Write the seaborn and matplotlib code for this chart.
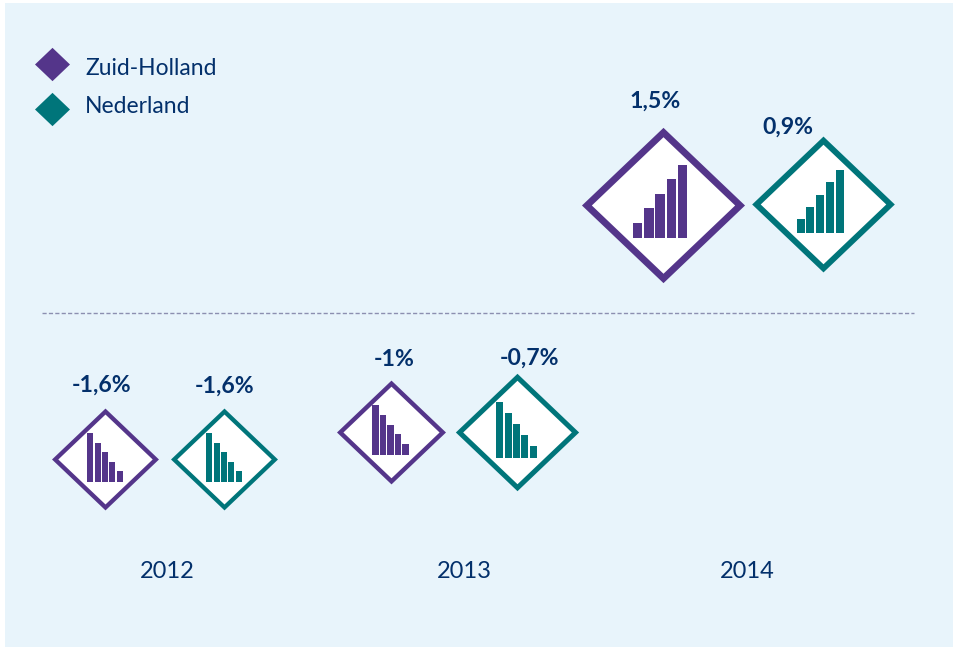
"""Economic growth Zuid-Holland vs Nederland, diamond pictogram chart."""
import matplotlib
matplotlib.use("Agg")
import matplotlib.pyplot as plt
from matplotlib.path import Path
import pandas as pd
import seaborn as sns

years = [2012, 2013, 2014]
regions = ["Zuid-Holland", "Nederland"]
labels_zh = ["-1,6%", "-1%", "1,5%"]
labels_nl = ["-1,6%", "-0,7%", "0,9%"]

# height of the diamond centre above the dashed zero line
level_zh = [-146, -119, 108]
level_nl = [-146, -119, 109]
# diamond widths
width_zh = [105, 107, 160]
width_nl = [105, 121, 140]
# the five small bars inside each diamond
bars_zh = [[49, 39, 30, 20, 11], [50, 40, 30, 21, 11], [15, 30, 44, 59, 73]]
bars_nl = [[49, 39, 30, 20, 11], [56, 45, 34, 23, 12], [14, 26, 38, 51, 63]]

PANEL = "#E8F4FB"
PURPLE = "#54358A"
TEAL = "#00757A"
NAVY = "#03306B"
FONT = "Lato"
PX_YEAR = 289  # pixels per year on the x axis

DIAMOND = Path([(1.05, 0), (0, 1), (-1.05, 0), (0, -1), (1.05, 0)], closed=True)

rows = []
for r, color, labs, lev, wid, bars, side in [
    (regions[0], PURPLE, labels_zh, level_zh, width_zh, bars_zh, -1),
    (regions[1], TEAL, labels_nl, level_nl, width_nl, bars_nl, 1),
]:
    for i, y in enumerate(years):
        rows.append(dict(region=r, year=y, color=color, label=labs[i], level=lev[i],
                         width=wid[i], bars=bars[i], side=side, idx=i))
df = pd.DataFrame(rows)

sns.set_theme(style="white")
plt.rcParams["font.family"] = [FONT, "DejaVu Sans"]

fig = plt.figure(figsize=(9.54, 6.47), dpi=100, facecolor="white")
ax = fig.add_axes([5 / 954, 0, 949 / 954, 644 / 647], facecolor=PANEL)
ax.set_xlim(2012 - 160 / PX_YEAR, 2012 + 789 / PX_YEAR)
ax.set_ylim(-334, 310)
ax.axis("off")
ax.add_patch(plt.Rectangle((0, 0), 1, 1, transform=ax.transAxes, color=PANEL, zorder=0))

# dashed zero line
ax.axhline(0, xmin=37 / 949, xmax=909 / 949, color="#8C8FB0", lw=1, ls=(0, (3, 1.6)), zorder=1)

# label nudges from the top tip of the diamond (px)
label_nudge = {("Zuid-Holland", 2012): (-3, 24), ("Nederland", 2012): (1, 23),
               ("Zuid-Holland", 2013): (4, 22), ("Nederland", 2013): (13, 16),
               ("Zuid-Holland", 2014): (-7, 28), ("Nederland", 2014): (-35, 10)}

for _, row in df.iterrows():
    i = row["idx"]
    gap = [14, 12, 10][i]
    half_pair = (width_zh[i] + width_nl[i]) / 2 + gap
    # the pair sits around the year, each diamond shifted by half the pair distance
    x_px = (row["year"] - 2012) * PX_YEAR + row["side"] * half_pair / 2 - 0.5
    x = 2012 + x_px / PX_YEAR
    w = row["width"]
    h = w / 1.05
    lw_px = 4.1 + (w - 100) * 0.045
    inner = w - 1.0 * lw_px
    sns.scatterplot(x=[x], y=[row["level"]], marker=DIAMOND, s=(inner * 0.72) ** 2,
                    color="white", edgecolor=row["color"], linewidth=lw_px * 0.72,
                    joinstyle="miter", legend=False, ax=ax, zorder=3, clip_on=False)

    # bar icon: inset placed relative to the diamond, drawn by barplot
    icon_w = w * 0.337
    up = row["bars"][-1] > row["bars"][0]
    dx = (-2.4 if up else 0)
    bottom = row["level"] - w * 0.208 - (0 if up else 1)
    top = max(row["bars"])
    inset = ax.inset_axes([x + (dx - icon_w / 2) / PX_YEAR, bottom, icon_w / PX_YEAR, top],
                          transform=ax.transData)
    sns.barplot(x=list(range(5)), y=row["bars"], color=row["color"], width=0.84,
                saturation=1, linewidth=0, ax=inset)
    inset.set_xlim(-0.42, 4.42)
    inset.set_ylim(0, top)
    inset.set_xticks([])
    inset.set_yticks([])
    inset.axis("off")

    nx, ny = label_nudge[(row["region"], row["year"])]
    ax.text(x + nx / PX_YEAR, row["level"] + h / 2 + ny, row["label"], ha="center", va="center",
            fontsize=16.6, fontweight="bold", color=NAVY, zorder=4)

# year captions
for y, nudge in zip(years, [2, 10, 4]):
    ax.text(y + nudge / PX_YEAR, -258, str(y), ha="center", va="center", fontsize=17, color=NAVY)

# legend, marker and name rows are not on the same baseline in the original
for region, c, my, ty in [(regions[0], PURPLE, 249.5, 245), (regions[1], TEAL, 204, 207)]:
    sns.scatterplot(x=[2012 - 113 / PX_YEAR], y=[my], marker=DIAMOND, s=(35 * 0.72) ** 2, color=c,
                    linewidth=0, legend=False, ax=ax, zorder=3)
    ax.text(2012 - 80 / PX_YEAR, ty, region, ha="left", va="center", fontsize=16.5, color=NAVY)

fig.savefig("out.png", dpi=100, facecolor="white")
